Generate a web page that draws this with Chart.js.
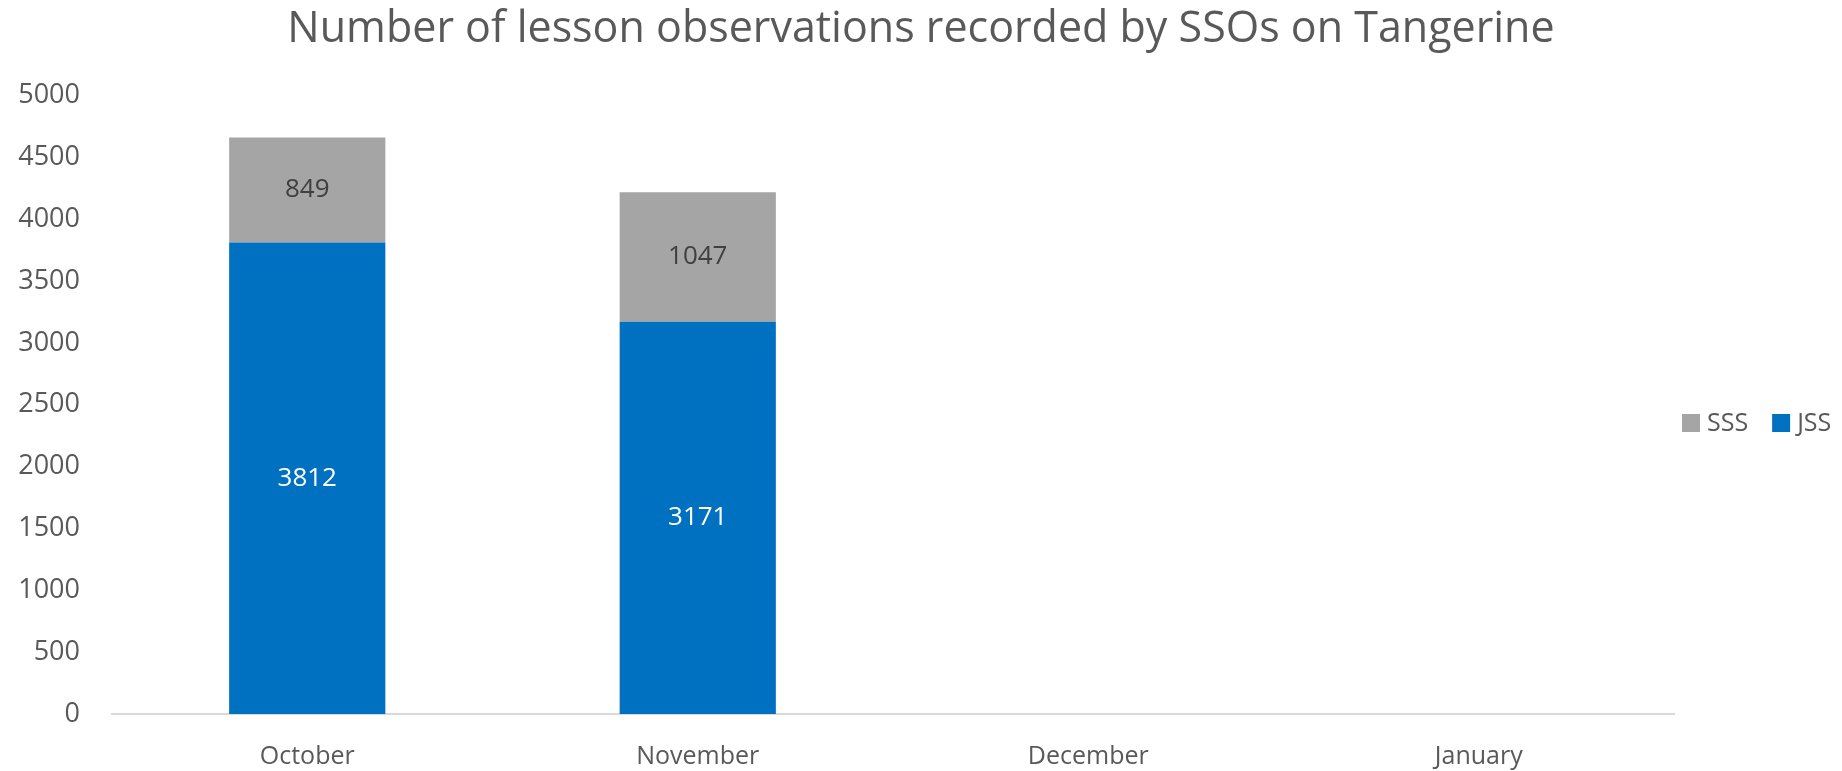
<!DOCTYPE html>
<html lang="en">
<head>
    <meta charset="UTF-8">
    <title>Lesson observations on Tangerine</title>
    <script src="https://cdn.jsdelivr.net/npm/chart.js"></script>
    <style>
        body { margin: 0; background-color: #FFFFFF; }
        .chart-box { width: 1842px; height: 771px; position: relative; }
    </style>
</head>
<body>
    <div class="chart-box"><canvas id="obsChart"></canvas></div>

    <script>
        // Chart data
        const months = ['October', 'November', 'December', 'January'];
        const jssCounts = [3812, 3171, null, null];
        const sssCounts = [849, 1047, null, null];
        const yMax = 5000;
        const yStep = 500;

        const textGrey = '#595959';
        const fontFamily = '"Open Sans", "DejaVu Sans", sans-serif';

        // Value labels in the middle of each segment
        const barLabels = {
            id: 'barLabels',
            afterDatasetsDraw(chart) {
                const ctx = chart.ctx;
                ctx.save();
                ctx.font = '26px ' + fontFamily;
                ctx.textAlign = 'center';
                ctx.textBaseline = 'middle';
                chart.data.datasets.forEach((ds, i) => {
                    chart.getDatasetMeta(i).data.forEach((bar, j) => {
                        const v = ds.data[j];
                        if (v == null) return;
                        ctx.fillStyle = ds.labelColor;
                        ctx.fillText(v, bar.x, (bar.y + bar.base) / 2);
                    });
                });
                ctx.restore();
            }
        };

        // Legend on the right, items side by side (SSS first, like the original)
        const sideLegend = {
            id: 'sideLegend',
            afterDraw(chart) {
                const ctx = chart.ctx;
                const box = 18;
                let x = chart.chartArea.right + 8;
                const y = 423;
                ctx.save();
                ctx.font = '25px ' + fontFamily;
                ctx.textBaseline = 'middle';
                chart.data.datasets.slice().reverse().forEach(ds => {
                    ctx.fillStyle = ds.backgroundColor;
                    ctx.fillRect(x, y - box / 2, box, box);
                    x += box + 7;
                    ctx.fillStyle = textGrey;
                    ctx.fillText(ds.label, x, y + 1);
                    x += ctx.measureText(ds.label).width + 24;
                });
                ctx.restore();
            }
        };

        new Chart(document.getElementById('obsChart'), {
            type: 'bar',
            data: {
                labels: months,
                datasets: [
                    { label: 'JSS', data: jssCounts, backgroundColor: '#0070C0', labelColor: '#FFFFFF' },
                    { label: 'SSS', data: sssCounts, backgroundColor: '#A5A5A5', labelColor: '#404040' }
                ]
            },
            options: {
                responsive: true,
                maintainAspectRatio: false,
                animation: false,
                datasets: { bar: { categoryPercentage: 1, barPercentage: 0.4 } },
                plugins: {
                    legend: { display: false },
                    tooltip: { enabled: false },
                    title: {
                        display: true,
                        text: 'Number of lesson observations recorded by SSOs on Tangerine',
                        color: textGrey,
                        font: { family: fontFamily, size: 43, weight: 'normal', lineHeight: 1.2 },
                        padding: { top: 4, bottom: 40 }
                    }
                },
                scales: {
                    x: {
                        stacked: true,
                        grid: { display: false },
                        border: { display: true, color: '#D9D9D9', width: 2 },
                        ticks: { color: textGrey, font: { family: fontFamily, size: 25 }, padding: 20 },
                        afterFit(scale) { scale.height = 57; }
                    },
                    y: {
                        stacked: true,
                        min: 0,
                        max: yMax,
                        grid: { display: false },
                        border: { display: false },
                        ticks: {
                            stepSize: yStep,
                            color: textGrey,
                            font: { family: fontFamily, size: 27 },
                            padding: 24,
                            callback: v => String(v)
                        },
                        afterFit(scale) { scale.width = 112; }
                    },
                    // empty right-hand axis that leaves room for the legend
                    legendSpace: {
                        position: 'right',
                        grid: { display: false },
                        border: { display: false },
                        ticks: { display: false },
                        afterFit(scale) { scale.width = 168; }
                    }
                }
            },
            plugins: [barLabels, sideLegend]
        });
    </script>
</body>
</html>
